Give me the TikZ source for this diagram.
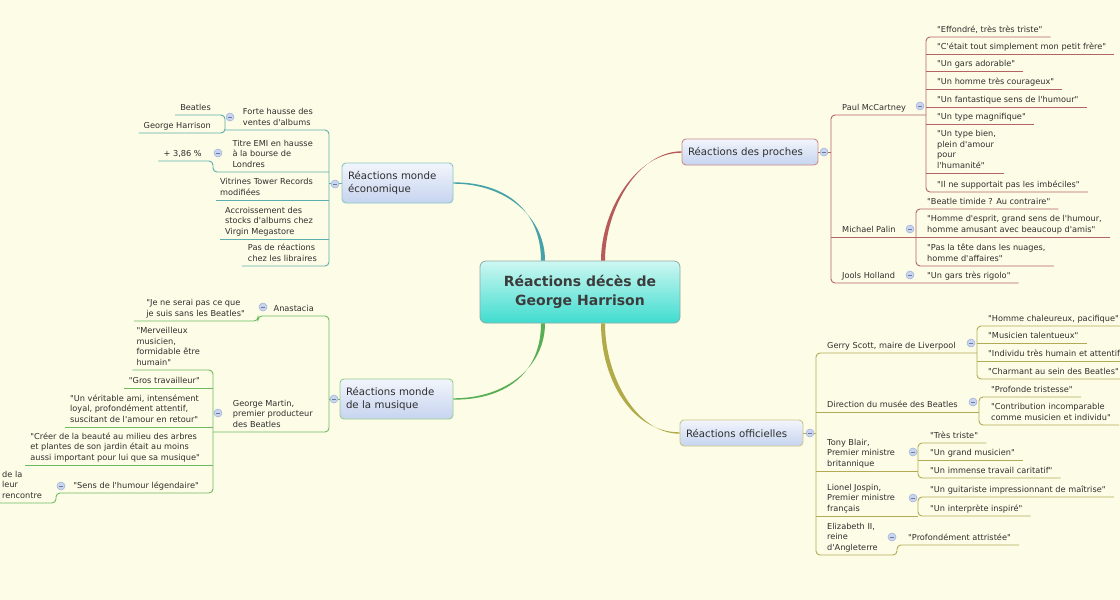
\documentclass[tikz,border=0pt]{standalone}
\usepackage{fontspec}
\newfontfamily\mapfont{DejaVu Sans}
\usetikzlibrary{positioning,calc}
\definecolor{paper}{HTML}{FDFCE6}
\definecolor{txt}{HTML}{2E2E2E}
\definecolor{hubtx}{HTML}{3C3C3C}
\definecolor{hubB}{HTML}{8FAAA8}
\definecolor{hubT}{HTML}{CDF7F1}
\definecolor{hubD}{HTML}{3FDCCF}
\definecolor{topT}{HTML}{F2F5FC}
\definecolor{topD}{HTML}{C6D4EF}
\definecolor{ecB}{HTML}{86C8C6}
\definecolor{muB}{HTML}{94CF8E}
\definecolor{prB}{HTML}{CC8A8A}
\definecolor{ofB}{HTML}{CCC585}
\definecolor{ecL}{HTML}{5AAEAC}
\definecolor{muL}{HTML}{6CBB62}
\definecolor{prL}{HTML}{B46464}
\definecolor{ofL}{HTML}{B2AB55}
\definecolor{ecC}{HTML}{45A2A8}
\definecolor{muC}{HTML}{58AE55}
\definecolor{prC}{HTML}{B65A5A}
\definecolor{ofC}{HTML}{B0AB48}
\definecolor{togF}{HTML}{C9D5EF}
\definecolor{togB}{HTML}{9DB0D8}

\begin{document}
\begin{tikzpicture}[x=1pt, y=-1pt,
    hub/.style={rectangle, rounded corners=6pt, draw=hubB, line width=0.8pt, top color=hubT, bottom color=hubD, minimum width=200pt, minimum height=62pt, align=center, font=\mapfont\fontsize{14}{19}\selectfont\bfseries, text=hubtx},
    topic/.style={rectangle, rounded corners=4pt, top color=topT, bottom color=topD, line width=0.9pt, inner xsep=6pt, align=left, font=\mapfont\fontsize{10.2}{13.5}\selectfont, text=txt},
    leaf/.style={inner xsep=0pt, inner ysep=1.4pt, align=left, font=\mapfont\fontsize{8.2}{10.5}\selectfont, text=txt, execute at end node=\strut},
    tog/.style={circle, draw=togB, fill=togF, minimum size=8pt, inner sep=0pt, line width=0.5pt,
        path picture={\draw[togB!70!black, line width=0.5pt] ([xshift=-2pt]path picture bounding box.center) -- ([xshift=2pt]path picture bounding box.center);}},
    pl/.style={line width=0.9pt, rounded corners=4pt}
]
    \useasboundingbox (0,0) rectangle (1120,600);
    \fill[paper] (0,0) rectangle (1120,600);

    % centre and main topics
    \node[hub] (hub) at (580,292) {Réactions décès de\\George Harrison};
    \node[topic, draw=ecB, text width=99pt, minimum height=40pt] (economique) at (397.5,183) {Réactions monde\\économique};
    \node[topic, draw=muB, text width=101pt, minimum height=40pt] (musique) at (396.5,399) {Réactions monde\\de la musique};
    \node[topic, draw=prB, text width=124pt, minimum height=26pt] (proches) at (750,152) {Réactions des proches};
    \node[topic, draw=ofB, text width=111pt, minimum height=26pt] (officielles) at (741.5,433) {Réactions officielles};

    % tapered branches
    \fill[ecC] ([xshift=-39pt]hub.north) .. controls +(0,-46) and +(57,0) .. ([yshift=0.7pt]economique.east)
        -- ([yshift=-0.7pt]economique.east) .. controls +(53,0) and +(0,-43) .. ([xshift=-35pt]hub.north) -- cycle;
    \fill[prC] ([xshift=21pt]hub.north) .. controls +(0,-48) and +(-47,0) .. ([yshift=-0.7pt]proches.west)
        -- ([yshift=0.7pt]proches.west) .. controls +(-43,0) and +(0,-52) .. ([xshift=25pt]hub.north) -- cycle;
    \fill[muC] ([xshift=-39pt]hub.south) .. controls +(0,46) and +(57,0) .. ([yshift=-0.7pt]musique.east)
        -- ([yshift=0.7pt]musique.east) .. controls +(53,0) and +(0,43) .. ([xshift=-35pt]hub.south) -- cycle;
    \fill[ofC] ([xshift=21pt]hub.south) .. controls +(0,57) and +(-47,0) .. ([yshift=0.7pt]officielles.west)
        -- ([yshift=-0.7pt]officielles.west) .. controls +(-43,0) and +(0,53) .. ([xshift=25pt]hub.south) -- cycle;

    % spines
    \coordinate (prS) at (831,0);
    \coordinate (pmS) at (926,0);
    \coordinate (mpS) at (916,0);
    \coordinate (ofS) at (816,0);
    \coordinate (gsS) at (977,0);
    \coordinate (dmS) at (979,0);
    \coordinate (tbS) at (918,0);
    \coordinate (ljS) at (918,0);
    \coordinate (elS) at (897,0);
    \coordinate (ecS) at (329,0);
    \coordinate (fhS) at (225,0);
    \coordinate (teS) at (213,0);
    \coordinate (muS) at (329,0);
    \coordinate (anS) at (258,0);
    \coordinate (gmS) at (213,0);
    \coordinate (shS) at (56,0);

    % Réactions des proches
    \node[leaf, anchor=south west] (pm) at (842,115) {Paul McCartney};
    \node[leaf, anchor=south west] (mp) at (842,237) {Michael Palin};
    \node[leaf, anchor=south west] (jh) at (842,283) {Jools Holland};
    \node[leaf, anchor=south west] (p1) at (937,37) {"Effondré, très très triste"};
    \node[leaf, anchor=south west] (p2) at (937,54) {"C'était tout simplement mon petit frère"};
    \node[leaf, anchor=south west] (p3) at (937,71) {"Un gars adorable"};
    \node[leaf, anchor=south west] (p4) at (937,89) {"Un homme très courageux"};
    \node[leaf, anchor=south west] (p5) at (937,107) {"Un fantastique sens de l'humour"};
    \node[leaf, anchor=south west] (p6) at (937,124) {"Un type magnifique"};
    \node[leaf, anchor=south west] (p7) at (937,173) {"Un type bien,\\plein d'amour\\pour\\l'humanité"};
    \node[leaf, anchor=south west] (p8) at (937,192) {"Il ne supportait pas les imbéciles"};
    \node[leaf, anchor=south west] (m1) at (927,209) {"Beatle timide ? Au contraire"};
    \node[leaf, anchor=south west] (m2) at (927,237) {"Homme d'esprit, grand sens de l'humour,\\homme amusant avec beaucoup d'amis"};
    \node[leaf, anchor=south west] (m3) at (927,266) {"Pas la tête dans les nuages,\\homme d'affaires"};
    \node[leaf, anchor=south west] (j1) at (927,283) {"Un gars très rigolo"};

    \draw[pl, prL] (proches.east) -- (prS |- proches.east);
    \draw[pl, prL] (pmS |- pm.south) -- (prS |- pm.south) -- (prS |- jh.south) -- ([xshift=8pt]j1.south east);
    \draw[pl, prL] (prS |- mp.south) -- (mpS |- mp.south);
    \draw[pl, prL] ([xshift=8pt]p1.south east) -- (pmS |- p1.south) -- (pmS |- p8.south) -- ([xshift=8pt]p8.south east);
    \foreach \n in {p2,p3,p4,p5,p6,p7}
        \draw[pl, prL] (pmS |- \n.south) -- ([xshift=8pt]\n.south east);
    \draw[pl, prL] ([xshift=8pt]m1.south east) -- (mpS |- m1.south) -- (mpS |- m3.south) -- ([xshift=8pt]m3.south east);
    \draw[pl, prL] (mpS |- m2.south) -- ([xshift=8pt]m2.south east);

    % Réactions officielles
    \node[leaf, anchor=south west] (gs) at (827,353) {Gerry Scott, maire de Liverpool};
    \node[leaf, anchor=south west] (dm) at (827,412) {Direction du musée des Beatles};
    \node[leaf, anchor=south west] (tb) at (827,471) {Tony Blair,\\Premier ministre\\britannique};
    \node[leaf, anchor=south west] (lj) at (827,516) {Lionel Jospin,\\Premier ministre\\français};
    \node[leaf, anchor=south west] (el) at (827,555) {Elizabeth II,\\reine\\d'Angleterre};
    \node[leaf, anchor=south west] (g1) at (988,326) {"Homme chaleureux, pacifique"};
    \node[leaf, anchor=south west] (g2) at (988,343) {"Musicien talentueux"};
    \node[leaf, anchor=south west] (g3) at (988,361) {"Individu très humain et attentif"};
    \node[leaf, anchor=south west] (g4) at (988,379) {"Charmant au sein des Beatles"};
    \node[leaf, anchor=south west] (d1) at (991,397) {"Profonde tristesse"};
    \node[leaf, anchor=south west] (d2) at (991,425) {"Contribution incomparable\\comme musicien et individu"};
    \node[leaf, anchor=south west] (t1) at (930,443) {"Très triste"};
    \node[leaf, anchor=south west] (t2) at (930,460) {"Un grand musicien"};
    \node[leaf, anchor=south west] (t3) at (930,478) {"Un immense travail caritatif"};
    \node[leaf, anchor=south west] (l1) at (930,497) {"Un guitariste impressionnant de maîtrise"};
    \node[leaf, anchor=south west] (l2) at (930,516) {"Un interprète inspiré"};
    \node[leaf, anchor=south west] (e1) at (908,545) {"Profondément attristée"};

    \draw[pl, ofL] (officielles.east) -- (ofS |- officielles.east);
    \draw[pl, ofL] (gsS |- gs.south) -- (ofS |- gs.south) -- (ofS |- el.south) -- (elS |- el.south) -- (elS |- e1.south) -- ([xshift=8pt]e1.south east);
    \draw[pl, ofL] (ofS |- dm.south) -- (dmS |- dm.south);
    \draw[pl, ofL] (ofS |- tb.south) -- (tbS |- tb.south);
    \draw[pl, ofL] (ofS |- lj.south) -- (ljS |- lj.south);
    \draw[pl, ofL] ([xshift=8pt]g1.south east) -- (gsS |- g1.south) -- (gsS |- g4.south) -- ([xshift=8pt]g4.south east);
    \draw[pl, ofL] (gsS |- g2.south) -- ([xshift=8pt]g2.south east);
    \draw[pl, ofL] (gsS |- g3.south) -- ([xshift=8pt]g3.south east);
    \draw[pl, ofL] ([xshift=8pt]d1.south east) -- (dmS |- d1.south) -- (dmS |- d2.south) -- ([xshift=8pt]d2.south east);
    \draw[pl, ofL] ([xshift=8pt]t1.south east) -- (tbS |- t1.south) -- (tbS |- t3.south) -- ([xshift=8pt]t3.south east);
    \draw[pl, ofL] (tbS |- t2.south) -- ([xshift=8pt]t2.south east);
    \draw[pl, ofL] ([xshift=8pt]l1.south east) -- (ljS |- l1.south) -- (ljS |- l2.south) -- ([xshift=8pt]l2.south east);

    % Réactions monde économique
    \node[leaf, anchor=south east] (fh) at (313,130) {Forte hausse des\\ventes d'albums};
    \node[leaf, anchor=south east] (te) at (313,172) {Titre EMI en hausse\\à la bourse de\\Londres};
    \node[leaf, anchor=south east] (vt) at (313,200) {Vitrines Tower Records\\modifiées};
    \node[leaf, anchor=south east] (ac) at (313,239) {Accroissement des\\stocks d'albums chez\\Virgin Megastore};
    \node[leaf, anchor=south east] (lib) at (317,266) {Pas de réactions\\chez les libraires};
    \node[leaf, anchor=south east] (f1) at (211,115) {Beatles};
    \node[leaf, anchor=south east] (f2) at (211,133) {George Harrison};
    \node[leaf, anchor=south east] (f3) at (202,161) {+ 3,86 \%};

    \draw[pl, ecL] (economique.west) -- (ecS |- economique.west);
    \draw[pl, ecL] (fhS |- fh.south) -- (ecS |- fh.south) -- (ecS |- lib.south) -- ([xshift=-6pt]lib.south west);
    \draw[pl, ecL] (ecS |- te.south) -- (teS |- te.south) -- (teS |- f3.south) -- ([xshift=-5pt]f3.south west);
    \draw[pl, ecL] (ecS |- vt.south) -- ([xshift=-4pt]vt.south west);
    \draw[pl, ecL] (ecS |- ac.south) -- ([xshift=-5pt]ac.south west);
    \draw[pl, ecL] ([xshift=-5pt]f1.south west) -- (fhS |- f1.south) -- (fhS |- f2.south) -- ([xshift=-5pt]f2.south west);

    % Réactions monde de la musique
    \node[leaf, anchor=south east] (an) at (314,316) {Anastacia};
    \node[leaf, anchor=south east] (gm) at (313,432) {George Martin,\\premier producteur\\des Beatles};
    \node[leaf, anchor=south east] (a1) at (245,321) {"Je ne serai pas ce que\\je suis sans les Beatles"};
    \node[leaf, anchor=south east] (g1m) at (200,370) {"Merveilleux\\musicien,\\formidable être\\humain"};
    \node[leaf, anchor=south east] (g2m) at (200,388) {"Gros travailleur"};
    \node[leaf, anchor=south east] (g3m) at (199,427) {"Un véritable ami, intensément\\loyal, profondément attentif,\\suscitant de l'amour en retour"};
    \node[leaf, anchor=south east] (g4m) at (200,465) {"Créer de la beauté au milieu des arbres\\et plantes de son jardin était au moins\\aussi important pour lui que sa musique"};
    \node[leaf, anchor=south east] (g5m) at (199,493) {"Sens de l'humour légendaire"};
    \node[leaf, anchor=south west] (s1) at (2,503) {de la\\leur\\rencontre};

    \draw[pl, muL] (musique.west) -- (muS |- musique.west);
    \draw[pl, muL] ([xshift=-12pt]a1.south west) -- (anS |- a1.south) -- (anS |- an.south) -- (muS |- an.south) -- (muS |- gm.south) -- (gmS |- gm.south);
    \draw[pl, muL] ([xshift=-4pt]g1m.south west) -- (gmS |- g1m.south) -- (gmS |- g5m.south) -- (shS |- g5m.south) -- (shS |- s1.south) -- ([xshift=-5pt]s1.south west);
    \foreach \n in {g2m,g3m,g4m}
        \draw[pl, muL] (gmS |- \n.south) -- ([xshift=-5pt]\n.south west);

    % collapse buttons
    \node[tog] (prT) at (824,152) {};
    \node[tog] (pmT) at (920,106) {};
    \node[tog] (mpT) at (910,229) {};
    \node[tog] (jhT) at (910,275) {};
    \node[tog] (ofT) at (810,433) {};
    \node[tog] (gsT) at (971,343) {};
    \node[tog] (dmT) at (973,402) {};
    \node[tog] (tbT) at (913,452) {};
    \node[tog] (ljT) at (913,498) {};
    \node[tog] (elT) at (892,537) {};
    \node[tog] (ecT) at (335,184) {};
    \node[tog] (fhT) at (230,117) {};
    \node[tog] (teT) at (218,153) {};
    \node[tog] (muT) at (334,399) {};
    \node[tog] (anT) at (263,307) {};
    \node[tog] (gmT) at (218,413) {};
    \node[tog] (shT) at (61,486) {};
\end{tikzpicture}
\end{document}
